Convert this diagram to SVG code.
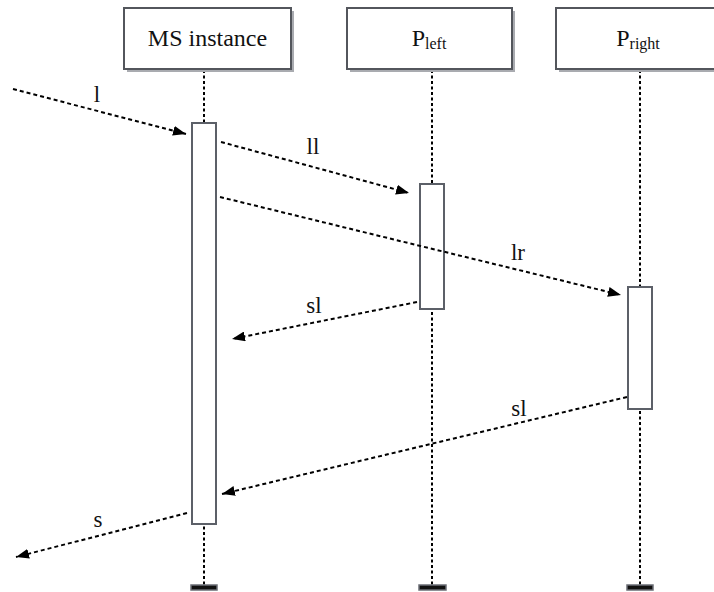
<svg xmlns="http://www.w3.org/2000/svg" width="714" height="592" viewBox="0 0 714 592">
<defs>
<style>
.head-shadow{fill:#a9abb0;stroke:none}
.head{fill:#fff;stroke:#53565c;stroke-width:2}
.life{stroke:#000;stroke-width:2;stroke-dasharray:3 2.5;fill:none}
.bar{fill:#fff;stroke:#5c6068;stroke-width:2}
.end{fill:#111;stroke:#6b6e75;stroke-width:1.5}
.msg{stroke:#000;stroke-width:2;stroke-dasharray:4 3;fill:none;marker-end:url(#ah)}
text{font-family:'Liberation Serif','DejaVu Serif',serif;fill:#111;text-anchor:middle}
.t{font-size:24px}
.lbl{font-size:23px}
.sub{font-size:16px}
</style>
<marker id="ah" markerUnits="userSpaceOnUse" markerWidth="14" markerHeight="10" refX="13" refY="5" orient="auto">
<path d="M0,0 L13,5 L0,10 z" fill="#000"/>
</marker>
</defs>
<rect width="714" height="592" fill="#fff"/>

<g id="ms-instance">
<line class="life" x1="204" y1="70" x2="204" y2="585"/>
<rect class="head-shadow" x="127" y="11" width="167" height="61"/>
<rect class="head" x="124" y="8" width="167" height="61"/>
<text class="t" x="207.5" y="46" font-family="Liberation Serif, DejaVu Serif, serif">MS instance</text>
<rect class="bar" x="192" y="123" width="24" height="401"/>
<rect class="end" x="191" y="585" width="26" height="5"/>
</g>

<g id="p-left">
<line class="life" x1="432" y1="70" x2="432" y2="585"/>
<rect class="head-shadow" x="350" y="11" width="165" height="61"/>
<rect class="head" x="347" y="8" width="165" height="61"/>
<text class="t" x="429" y="46" font-family="Liberation Serif, DejaVu Serif, serif">P<tspan class="sub" dy="3">left</tspan></text>
<rect class="bar" x="420" y="184" width="24" height="125"/>
<rect class="end" x="419" y="585" width="27" height="5"/>
</g>

<g id="p-right">
<line class="life" x1="640" y1="70" x2="640" y2="585"/>
<rect class="head-shadow" x="559" y="11" width="165" height="61"/>
<rect class="head" x="556" y="8" width="165" height="61"/>
<text class="t" x="638" y="46" font-family="Liberation Serif, DejaVu Serif, serif">P<tspan class="sub" dy="3">right</tspan></text>
<rect class="bar" x="628" y="287" width="24" height="122"/>
<rect class="end" x="627" y="585" width="26" height="5"/>
</g>

<g id="connectors" font-family="Liberation Serif, DejaVu Serif, serif">
<line class="msg" x1="13" y1="89" x2="186" y2="134"/>
<text class="lbl" x="97" y="102">l</text>
<line class="msg" x1="221" y1="142" x2="409" y2="193"/>
<text class="lbl" x="313" y="154">ll</text>
<line class="msg" x1="220" y1="197" x2="621" y2="295"/>
<text class="lbl" x="518" y="260">lr</text>
<line class="msg" x1="417" y1="302" x2="232" y2="339"/>
<text class="lbl" x="314" y="313">sl</text>
<line class="msg" x1="627" y1="397" x2="222" y2="494"/>
<text class="lbl" x="519" y="416">sl</text>
<line class="msg" x1="187" y1="513" x2="16" y2="557"/>
<text class="lbl" x="98" y="527">s</text>
</g>
</svg>
